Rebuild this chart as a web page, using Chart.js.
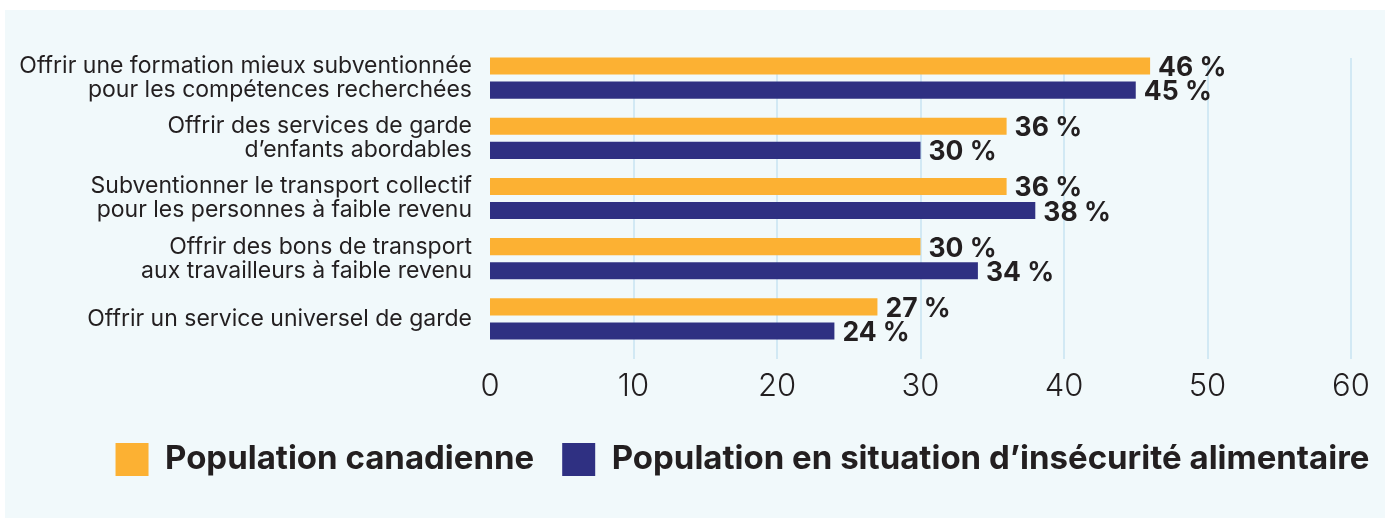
<!DOCTYPE html>
<html lang="fr">
<head>
<meta charset="utf-8">
<script src="https://cdn.jsdelivr.net/npm/chart.js@4.4.1/dist/chart.umd.min.js"></script>
<style>
  html, body { margin: 0; padding: 0; background: #fff; }
  canvas { display: block; }
</style>
</head>
<body>
<canvas id="chartMesures" width="1388" height="521"></canvas>
<script>
// ── Données ─────────────────────────────────────────
const categories = [
  ['Offrir une formation mieux subventionnée', 'pour les compétences recherchées'],
  ['Offrir des services de garde', 'd’enfants abordables'],
  ['Subventionner le transport collectif', 'pour les personnes à faible revenu'],
  ['Offrir des bons de transport', 'aux travailleurs à faible revenu'],
  'Offrir un service universel de garde'
];
const seriesNames = ['Population canadienne', 'Population en situation d’insécurité alimentaire'];
const canadienne = [46, 36, 36, 30, 27];
const insecurite = [45, 30, 38, 34, 24];
const xMin = 0, xMax = 60, xStep = 10;

const ORANGE = '#fcb133';
const NAVY   = '#2f3082';
const INK    = '#231f20';
const FONT   = 'Inter, "Noto Sans", sans-serif';

// ── Fond du panneau ─────────────────────────────────
const panelBg = {
  id: 'panelBg',
  beforeDraw(chart) {
    const c = chart.ctx;
    c.save();
    c.fillStyle = '#ffffff';
    c.fillRect(0, 0, chart.width, chart.height);
    c.fillStyle = '#f1f9fb';
    c.fillRect(5, 10, 1380, 508);
    c.restore();
  }
};

// ── Légende décalée vers la droite ──────────────────
const legendShift = {
  id: 'legendShift',
  afterLayout(chart) {
    if (!chart.legend) return;
    chart.legend.left += 67;
    chart.legend.right += 67;
  }
};

// ── Lignes verticales (décalées vers le bas) ────────
const gridLines = {
  id: 'gridLines',
  beforeDatasetsDraw(chart) {
    const { ctx, chartArea, scales } = chart;
    ctx.save();
    ctx.strokeStyle = '#d2e9f4';
    ctx.lineWidth = 2;
    scales.x.ticks.forEach(t => {
      if (t.value === xMin) return;
      const x = Math.round(scales.x.getPixelForValue(t.value));
      ctx.beginPath();
      ctx.moveTo(x, chartArea.top + 10);
      ctx.lineTo(x, chartArea.bottom + 10);
      ctx.stroke();
    });
    ctx.restore();
  }
};

// ── Étiquettes de valeur ────────────────────────────
const valueLabels = {
  id: 'valueLabels',
  afterDatasetsDraw(chart) {
    const ctx = chart.ctx;
    ctx.save();
    ctx.font = 'bold 26.5px ' + FONT;
    ctx.fillStyle = INK;
    ctx.textAlign = 'left';
    ctx.textBaseline = 'middle';
    chart.data.datasets.forEach((ds, i) => {
      chart.getDatasetMeta(i).data.forEach((bar, j) => {
        ctx.fillText(ds.data[j] + ' %', bar.x + 8, bar.y + 2);
      });
    });
    ctx.restore();
  }
};

new Chart(document.getElementById('chartMesures'), {
  type: 'bar',
  data: {
    labels: categories,
    datasets: [
      { label: seriesNames[0], data: canadienne, backgroundColor: ORANGE },
      { label: seriesNames[1], data: insecurite, backgroundColor: NAVY }
    ]
  },
  options: {
    indexAxis: 'y',
    responsive: false,
    animation: false,
    devicePixelRatio: 1,
    categoryPercentage: 0.8,
    barPercentage: 0.71,
    layout: { padding: { top: 48, right: 37, left: 0, bottom: 35 } },
    plugins: {
      tooltip: { enabled: false },
      legend: {
        position: 'bottom',
        labels: {
          color: INK,
          font: { family: FONT, size: 33, weight: 'bold' },
          boxWidth: 33,
          boxHeight: 33,
          padding: 28
        }
      }
    },
    scales: {
      x: {
        min: xMin, max: xMax,
        grid: { display: false },
        border: { display: false },
        ticks: {
          stepSize: xStep,
          color: INK,
          padding: 11,
          font: { family: FONT, size: 31, weight: '300' }
        },
        afterFit: s => { s.height = 66; }
      },
      y: {
        grid: { display: false },
        border: { display: false },
        ticks: {
          color: INK,
          padding: 10,
          autoSkip: false,
          font: { family: FONT, size: 23, lineHeight: 1.04 }
        },
        afterFit: s => { s.width = 490; }
      }
    }
  },
  plugins: [panelBg, legendShift, gridLines, valueLabels]
});
</script>
</body>
</html>
